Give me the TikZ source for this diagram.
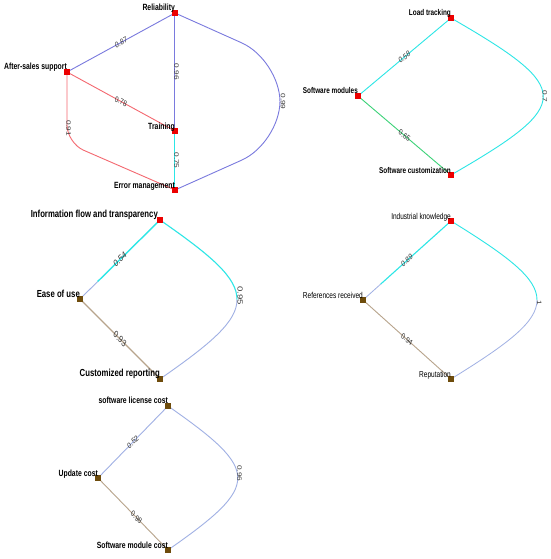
\documentclass[tikz,border=0pt]{standalone}
\usepackage{fontspec}
\newfontfamily\lab{Liberation Sans}
\usetikzlibrary{calc}
\definecolor{eblue}{RGB}{122,122,222}
\definecolor{ered}{RGB}{244,104,112}
\definecolor{ecyan}{RGB}{44,230,230}
\definecolor{egreen}{RGB}{60,210,120}
\definecolor{etan}{RGB}{184,164,140}
\definecolor{elav}{RGB}{160,176,228}
\definecolor{nred}{RGB}{236,0,0}
\definecolor{nbrown}{RGB}{110,76,12}
\definecolor{etext}{RGB}{55,55,55}
\begin{document}
\begin{tikzpicture}[x=1pt,y=-1pt]
\path[use as bounding box,fill=white] (0,0) rectangle (550,559);
\begin{scope}[xscale=0.76, x=1.315789pt, transform shape,
  nd/.style={rectangle,minimum width=7.8pt,minimum height=6pt,inner sep=0pt,fill=nred},
  ndb/.style={nd,fill=nbrown},
  nl/.style={anchor=base east,inner sep=0pt,text=black,font=\lab\bfseries\fontsize{9}{10}\selectfont},
  nlb/.style={nl,font=\lab\bfseries\fontsize{10.2}{11}\selectfont},
  nls/.style={nl,font=\lab\bfseries\fontsize{8.4}{9}\selectfont},
  nlr/.style={nl,font=\lab\fontsize{8.6}{9}\selectfont},
  el/.style={inner sep=0pt,text=etext,font=\lab\fontsize{8.3}{9}\selectfont},
  elb/.style={el,font=\lab\fontsize{9.6}{10}\selectfont},
  ed/.style={line width=0.9pt},
  edv/.style={line width=1.0pt}]

% ---------- Panel 1 ----------
\coordinate (Rel) at (175,13);
\coordinate (AS) at (67,72);
\coordinate (Tr) at (175,131);
\coordinate (Err) at (175,190);
\coordinate (w1) at (280,60);
\coordinate (w2) at (280,143);
\coordinate (w3) at (67,143);
\draw[ed,eblue] (AS) -- node[el,rotate=22.5]{0.87} (Rel);
\draw[edv,draw=eblue] (Rel) -- node[el,xshift=2pt,rotate=-90]{0.96} (Tr);
\draw[ed,ered] (AS) -- node[el,rotate=-22.5]{0.78} (Tr);
\draw[ed,ered,rounded corners=18pt] (AS) -- node[el,pos=0.79,xshift=2pt,rotate=-90]{0.91} (w3) -- (Err);
\draw[edv,draw=ecyan] (Tr) -- node[el,xshift=2pt,rotate=-90]{0.75} (Err);
\draw[ed,eblue,rounded corners=42pt] (Rel) -- (w1) -- node[el,xshift=4pt,rotate=-90]{0.99} (w2) -- (Err);
\foreach \n in {Rel,AS,Tr,Err} \node[nd] at (\n) {};
\node[nl] at ($(Rel)+(0,-2)$) {Reliability};
\node[nl] at ($(AS)+(0,-2)$) {After-sales support};
\node[nl] at ($(Tr)+(0,-2)$) {Training};
\node[nl] at ($(Err)+(0,-2)$) {Error management};

% ---------- Panel 2 ----------
\coordinate (LT) at (451,18);
\coordinate (SM) at (358,96);
\coordinate (SC) at (451,175);
\draw[ed,ecyan] (SM) -- node[el,rotate=32.5]{0.58} (LT);
\draw[ed,egreen] (SM) -- node[el,rotate=-32.7]{0.65} (SC);
\draw[ed,ecyan] (LT) .. controls (574,89) and (574,104) .. (SC) node[el,pos=0.5,xshift=2pt,rotate=-90]{0.7};
\foreach \n in {LT,SM,SC} \node[nd] at (\n) {};
\node[nls] at ($(LT)+(0,-2)$) {Load tracking};
\node[nls] at ($(SM)+(0,-2)$) {Software modules};
\node[nls] at ($(SC)+(0,-2)$) {Software customization};

% ---------- Panel 3 ----------
\coordinate (IFT) at (160,220);
\coordinate (EoU) at (80,299);
\coordinate (CR) at (160,379);
\coordinate (m31) at ($(IFT)!0.78!(EoU)$);
\coordinate (m32) at (237,299.5);
\draw[ecyan,line width=1.4pt] (IFT) -- (m31);
\draw[elav,line width=0.9pt] (m31) -- (EoU);
\path (EoU) -- node[elb,rotate=36.9]{0.54} (IFT);
\draw[etan,line width=1.1pt] (EoU) -- node[elb,rotate=-37.2]{0.93} (CR);
\draw[ecyan,line width=1.1pt] (IFT) .. controls (211.5,255.8) and (237.2,277.6) .. (m32);
\draw[elav,line width=0.9pt] (m32) .. controls (237.2,321.4) and (211.5,343.2) .. (CR);
\node[elb,xshift=4pt,yshift=4pt,rotate=-90] at (m32) {0.95};
\node[nd] at (IFT) {};
\node[ndb] at (EoU) {};
\node[ndb] at (CR) {};
\node[nlb] at ($(IFT)+(-2,-2.5)$) {Information flow and transparency};
\node[nlb] at ($(EoU)+(0,-2)$) {Ease of use};
\node[nlb] at ($(CR)+(0,-2.5)$) {Customized reporting};

% ---------- Panel 4 ----------
\coordinate (IK) at (451,221);
\coordinate (RR) at (363,300);
\coordinate (Rep) at (451,379);
\coordinate (m41) at ($(IK)!0.8!(RR)$);
\coordinate (m42) at (537,300);
\draw[ecyan,line width=1.1pt] (IK) -- (m41);
\draw[elav,line width=0.8pt] (m41) -- (RR);
\path (RR) -- node[el,rotate=34.3]{0.89} (IK);
\draw[etan,line width=0.9pt] (RR) -- node[el,rotate=-34.3]{0.94} (Rep);
\draw[ecyan,line width=0.9pt] (IK) .. controls (508.5,256.5) and (537.2,278.2) .. (m42);
\draw[elav,line width=0.8pt] (m42) .. controls (537.2,321.8) and (508.5,343.5) .. (Rep);
\node[el,xshift=3pt,yshift=-3pt,rotate=-90] at (m42) {1};
\node[nd] at (IK) {};
\node[ndb] at (RR) {};
\node[ndb] at (Rep) {};
\node[nlr] at ($(IK)+(0,-2)$) {Industrial knowledge};
\node[nlr] at ($(RR)+(0,-1.5)$) {References received};
\node[nlr] at ($(Rep)+(0,-2)$) {Reputation};

% ---------- Panel 5 ----------
\coordinate (SLC) at (168,406);
\coordinate (UC) at (98,478);
\coordinate (SMC) at (168,550);
\draw[ed,elav] (UC) -- node[el,rotate=38]{0.52} (SLC);
\draw[ed,etan] (UC) -- node[el,pos=0.55,rotate=-38]{0.98} (SMC);
\draw[ed,elav] (SLC) .. controls (261,471) and (261,485) .. (SMC) node[el,pos=0.46,xshift=3pt,rotate=-90]{0.96};
\foreach \n in {SLC,UC,SMC} \node[ndb] at (\n) {};
\node[nl] at ($(SLC)+(0,-2.5)$) {software license cost};
\node[nl] at ($(UC)+(0,-2)$) {Update cost};
\node[nl] at ($(SMC)+(0,-2)$) {Software module cost};
\end{scope}
\end{tikzpicture}
\end{document}
